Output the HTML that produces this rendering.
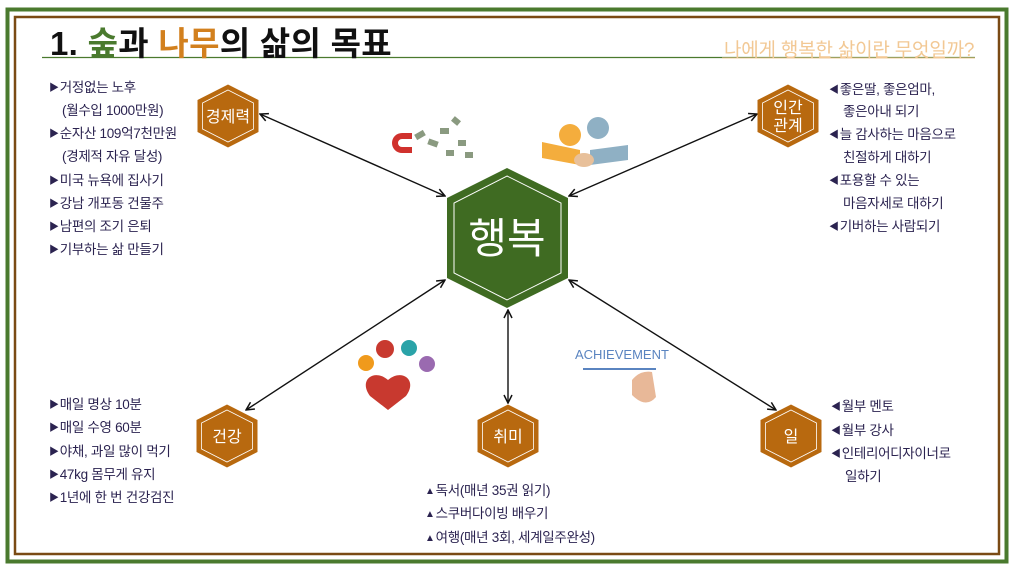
<!DOCTYPE html>
<html><head><meta charset="utf-8"><style>
body{margin:0;width:1014px;height:570px;background:#fff;position:relative;overflow:hidden;font-family:"Liberation Sans","Noto Sans CJK KR",sans-serif}
.t{position:absolute;font-size:13.5px;color:#2b2350;white-space:nowrap;line-height:16px;letter-spacing:-0.3px}
.t b{font-weight:normal;font-size:10px;vertical-align:1px;margin-right:1px}
</style></head><body>
<svg width="1014" height="570" style="position:absolute;left:0;top:0">
<rect x="7.5" y="9.5" width="999" height="552" fill="none" stroke="#4a7a2e" stroke-width="4"/>
<rect x="15" y="17" width="984" height="537" fill="none" stroke="#7a4a14" stroke-width="2.5"/>
<line x1="42" y1="57.5" x2="975" y2="57.5" stroke="#4a7a2e" stroke-width="1.3"/>
<line x1="722" y1="58" x2="975" y2="58" stroke="#f2c894" stroke-width="1"/>
<defs><marker id="a" markerWidth="10" markerHeight="10" refX="9" refY="5" orient="auto-start-reverse" markerUnits="userSpaceOnUse"><path d="M1,1 L9,5 L1,9" fill="none" stroke="#111" stroke-width="1.5"/></marker></defs>
<g stroke="#111" stroke-width="1.4" marker-start="url(#a)" marker-end="url(#a)">
<line x1="260" y1="114" x2="445" y2="196"/>
<line x1="757" y1="114" x2="569" y2="196"/>
<line x1="246" y1="410" x2="445" y2="280"/>
<line x1="508" y1="310" x2="508" y2="403"/>
<line x1="776" y1="410" x2="569" y2="280"/>
</g>
<polygon points="507,168 568,198 568,278 507,308 447,278 447,198" fill="#3f6b22"/>
<polygon points="507,176 561,203 561,273 507,300 454,273 454,203" fill="none" stroke="#fff" stroke-width="1"/>
<text x="507" y="253" fill="#fff" font-size="42" text-anchor="middle" font-family="Liberation Sans,Noto Sans CJK KR,sans-serif">행복</text>
<g font-family="Liberation Sans,Noto Sans CJK KR,sans-serif" font-size="16" fill="#fff" text-anchor="middle">
<g transform="translate(228,116)"><polygon points="0,-31.5 30.5,-16 30.5,16 0,31.5 -30.5,16 -30.5,-16" fill="#b8690f"/><polygon points="0,-26 25.5,-13 25.5,13 0,26 -25.5,13 -25.5,-13" fill="none" stroke="#fff" stroke-width="0.8"/><text y="6">경제력</text></g>
<g transform="translate(788,116)"><polygon points="0,-31.5 30.5,-16 30.5,16 0,31.5 -30.5,16 -30.5,-16" fill="#b8690f"/><polygon points="0,-26 25.5,-13 25.5,13 0,26 -25.5,13 -25.5,-13" fill="none" stroke="#fff" stroke-width="0.8"/><text y="-3">인간</text><text y="15">관계</text></g>
<g transform="translate(227,436)"><polygon points="0,-31.5 30.5,-16 30.5,16 0,31.5 -30.5,16 -30.5,-16" fill="#b8690f"/><polygon points="0,-26 25.5,-13 25.5,13 0,26 -25.5,13 -25.5,-13" fill="none" stroke="#fff" stroke-width="0.8"/><text y="6">건강</text></g>
<g transform="translate(508,436)"><polygon points="0,-31.5 30.5,-16 30.5,16 0,31.5 -30.5,16 -30.5,-16" fill="#b8690f"/><polygon points="0,-26 25.5,-13 25.5,13 0,26 -25.5,13 -25.5,-13" fill="none" stroke="#fff" stroke-width="0.8"/><text y="6">취미</text></g>
<g transform="translate(791,436)"><polygon points="0,-31.5 30.5,-16 30.5,16 0,31.5 -30.5,16 -30.5,-16" fill="#b8690f"/><polygon points="0,-26 25.5,-13 25.5,13 0,26 -25.5,13 -25.5,-13" fill="none" stroke="#fff" stroke-width="0.8"/><text y="6">일</text></g>
</g>
<path d="M402,133 a10,10 0 0 0 0,20 h10 v-6 h-10 a4,4 0 0 1 0,-8 h10 v-6z" fill="#d0312d"/>
<g fill="#8a9a80"><rect x="415" y="132" width="10" height="6" transform="rotate(-30 420 135)"/><rect x="428" y="140" width="10" height="6" transform="rotate(20 433 143)"/><rect x="440" y="128" width="9" height="6"/><rect x="452" y="118" width="8" height="6" transform="rotate(40 456 121)"/><rect x="458" y="140" width="8" height="6"/><rect x="446" y="150" width="8" height="6"/><rect x="465" y="152" width="8" height="6"/></g>
<polygon points="542,142 580,150 580,165 542,158" fill="#f4ad3d"/>
<polygon points="590,150 628,145 628,160 590,165" fill="#8fb0c4"/>
<circle cx="570" cy="135" r="11" fill="#f4ad3d"/><circle cx="598" cy="128" r="11" fill="#8fb0c4"/>
<ellipse cx="584" cy="160" rx="10" ry="7" fill="#e8c09a"/>
<path d="M388,380 c-14,-12 -30,0 -18,16 l18,14 l18,-14 c12,-16 -4,-28 -18,-16z" fill="#c8392f"/>
<circle cx="385" cy="349" r="9" fill="#c8392f"/><circle cx="409" cy="348" r="8" fill="#2aa3a8"/><circle cx="366" cy="363" r="8" fill="#f09a1c"/><circle cx="427" cy="364" r="8" fill="#9a6ab0"/>
<text x="575" y="359" fill="#5a84c0" font-size="13" font-family="Liberation Sans,sans-serif">ACHIEVEMENT</text>
<line x1="583" y1="369" x2="656" y2="369" stroke="#5a84c0" stroke-width="2"/>
<path d="M632,380 q8,-10 20,-8 l4,25 q-10,12 -24,-2z" fill="#e8b898"/>
</svg>
<div style="position:absolute;left:50px;top:17px;font-size:33px;font-weight:bold;color:#111;white-space:nowrap;letter-spacing:0.3px">1. <span style="color:#4a7a2e">숲</span>과 <span style="color:#d2801e">나무</span>의 삶의 목표</div>
<div style="position:absolute;left:724px;top:35px;font-size:19px;color:#f2c894;white-space:nowrap;letter-spacing:-0.2px">나에게 행복한 삶이란 무엇일까?</div>
<div class="t" style="left:49px;top:80px"><b>▶</b>거정없는 노후</div>
<div class="t" style="left:62px;top:103px">(월수입 1000만원)</div>
<div class="t" style="left:49px;top:126px"><b>▶</b>순자산 109억7천만원</div>
<div class="t" style="left:62px;top:149px">(경제적 자유 달성)</div>
<div class="t" style="left:49px;top:173px"><b>▶</b>미국 뉴욕에 집사기</div>
<div class="t" style="left:49px;top:196px"><b>▶</b>강남 개포동 건물주</div>
<div class="t" style="left:49px;top:219px"><b>▶</b>남편의 조기 은퇴</div>
<div class="t" style="left:49px;top:242px"><b>▶</b>기부하는 삶 만들기</div>
<div class="t" style="left:829px;top:82px"><b>◀</b>좋은딸, 좋은엄마,</div>
<div class="t" style="left:843px;top:104px">좋은아내 되기</div>
<div class="t" style="left:829px;top:127px"><b>◀</b>늘 감사하는 마음으로</div>
<div class="t" style="left:843px;top:150px">친절하게 대하기</div>
<div class="t" style="left:829px;top:173px"><b>◀</b>포용할 수 있는</div>
<div class="t" style="left:843px;top:196px">마음자세로 대하기</div>
<div class="t" style="left:829px;top:219px"><b>◀</b>기버하는 사람되기</div>
<div class="t" style="left:49px;top:397px"><b>▶</b>매일 명상 10분</div>
<div class="t" style="left:49px;top:420px"><b>▶</b>매일 수영 60분</div>
<div class="t" style="left:49px;top:444px"><b>▶</b>야채, 과일 많이 먹기</div>
<div class="t" style="left:49px;top:467px"><b>▶</b>47kg 몸무게 유지</div>
<div class="t" style="left:49px;top:490px"><b>▶</b>1년에 한 번 건강검진</div>
<div class="t" style="left:425px;top:483px"><b>▲</b>독서(매년 35권 읽기)</div>
<div class="t" style="left:425px;top:506px"><b>▲</b>스쿠버다이빙 배우기</div>
<div class="t" style="left:425px;top:530px"><b>▲</b>여행(매년 3회, 세계일주완성)</div>
<div class="t" style="left:831px;top:399px"><b>◀</b>월부 멘토</div>
<div class="t" style="left:831px;top:423px"><b>◀</b>월부 강사</div>
<div class="t" style="left:831px;top:446px"><b>◀</b>인테리어디자이너로</div>
<div class="t" style="left:845px;top:469px">일하기</div>
</body></html>
